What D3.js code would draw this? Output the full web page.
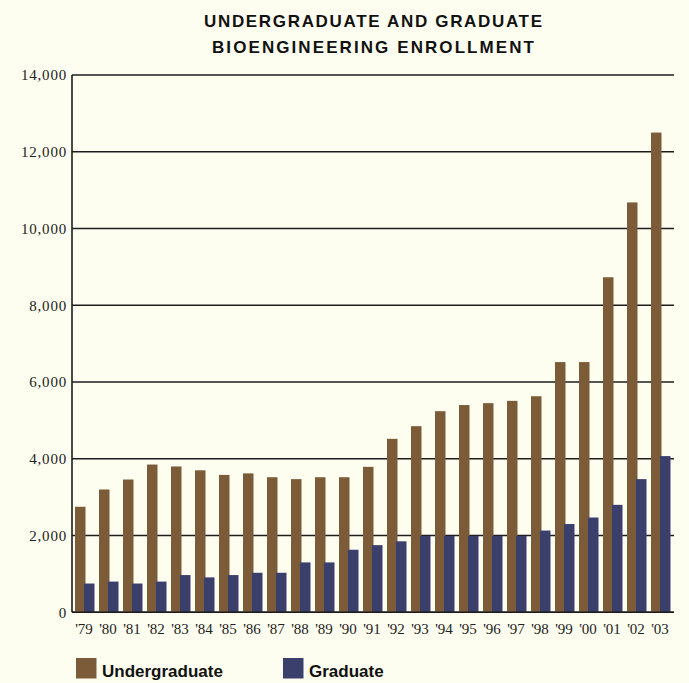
<!DOCTYPE html>
<html>
<head>
<meta charset="utf-8">
<script src="https://cdn.jsdelivr.net/npm/d3@7"></script>
<style>
  html, body { margin: 0; padding: 0; background: #fefef0; }
  svg { display: block; }
</style>
</head>
<body>
<svg id="chart" width="689" height="683"></svg>
<script>
// Bioengineering enrollment, 1979–2003
const years = ["'79","'80","'81","'82","'83","'84","'85","'86","'87","'88","'89","'90",
               "'91","'92","'93","'94","'95","'96","'97","'98","'99","'00","'01","'02","'03"];
const undergraduate = [2750, 3200, 3460, 3850, 3800, 3700, 3580, 3620, 3520, 3470, 3520, 3520,
                       3790, 4520, 4850, 5240, 5400, 5450, 5510, 5630, 6520, 6520, 8730, 10680, 12500];
const graduate = [750, 800, 750, 800, 970, 910, 970, 1030, 1030, 1300, 1300, 1630,
                  1750, 1850, 1990, 1990, 1990, 1990, 1990, 2130, 2300, 2470, 2800, 3470, 4070];
const yTicks = [0, 2000, 4000, 6000, 8000, 10000, 12000, 14000];
const seriesNames = ["Undergraduate", "Graduate"];
const seriesColors = ["#7c5c38", "#3b3f6c"];
const titleLines = ["UNDERGRADUATE AND GRADUATE", "BIOENGINEERING ENROLLMENT"];

const svg = d3.select("#chart");
const plotLeft = 72, plotRight = 674, plotTop = 75, plotBottom = 612.3;

const x0 = d3.scaleBand().domain(years).range([74.5, 674.5]).paddingInner(0).paddingOuter(0);
const y = d3.scaleLinear().domain([0, 14000]).range([plotBottom, plotTop]);
const color = d3.scaleOrdinal().domain(seriesNames).range(seriesColors);

// Title
svg.append("g").selectAll("text").data(titleLines).join("text")
  .attr("x", 373)
  .attr("y", (d, i) => 26.5 + i * 26.5)
  .attr("text-anchor", "middle")
  .attr("font-family", "'Liberation Sans', Arial, sans-serif")
  .attr("font-weight", "bold")
  .attr("font-size", 17)
  .attr("fill", "#111")
  .attr("textLength", (d, i) => i === 0 ? 338 : 322)
  .attr("lengthAdjust", "spacing")
  .text(d => d);

// Gridlines
svg.append("g").selectAll("line").data(yTicks).join("line")
  .attr("x1", plotLeft).attr("x2", plotRight)
  .attr("y1", d => y(d)).attr("y2", d => y(d))
  .attr("stroke", "#1c1c1c").attr("stroke-width", 1.6);

// Y axis
const yAxis = d3.axisLeft(y).tickValues(yTicks).tickSize(0).tickPadding(5)
  .tickFormat(d3.format(","));
const yg = svg.append("g").attr("transform", `translate(${plotLeft},0)`).call(yAxis);
yg.select(".domain").attr("stroke", "#1c1c1c").attr("stroke-width", 1.6)
  .attr("d", `M0,${plotTop}V${plotBottom}`);
yg.selectAll("text")
  .attr("font-family", "'Liberation Serif', 'Times New Roman', serif")
  .attr("font-size", 15).attr("letter-spacing", 0.8).attr("fill", "#222");

// Bars
const barW = 10.5;
const offsets = [0.5, 9.5];
const groups = svg.append("g").selectAll("g").data(years).join("g")
  .attr("transform", d => `translate(${x0(d)},0)`);
groups.selectAll("rect")
  .data((d, i) => [
    { key: seriesNames[0], value: undergraduate[i], k: 0 },
    { key: seriesNames[1], value: graduate[i], k: 1 }
  ])
  .join("rect")
  .attr("x", d => offsets[d.k])
  .attr("width", barW)
  .attr("y", d => y(d.value))
  .attr("height", d => y(0) - y(d.value))
  .attr("fill", d => color(d.key));

// Baseline drawn over the bars
svg.append("line")
  .attr("x1", plotLeft).attr("x2", plotRight).attr("y1", y(0)).attr("y2", y(0))
  .attr("stroke", "#1c1c1c").attr("stroke-width", 1.6);

// X axis labels
const xAxis = d3.axisBottom(x0).tickSize(0).tickPadding(0);
const xg = svg.append("g").attr("transform", `translate(-2.5,${plotBottom + 11})`).call(xAxis);
xg.select(".domain").remove();
xg.selectAll("text")
  .attr("font-family", "'Liberation Serif', 'Times New Roman', serif")
  .attr("font-size", 15).attr("fill", "#222");

// Legend
const legendX = [76, 283];
const legend = svg.append("g").selectAll("g").data(seriesNames).join("g")
  .attr("transform", (d, i) => `translate(${legendX[i]},658)`);
legend.append("rect").attr("width", 20.5).attr("height", 20.5).attr("fill", d => color(d));
legend.append("text")
  .attr("x", 26).attr("y", 18.5)
  .attr("font-family", "'Liberation Sans', Arial, sans-serif")
  .attr("font-weight", "bold").attr("font-size", 17).attr("fill", "#111")
  .text(d => d);
</script>
</body>
</html>
